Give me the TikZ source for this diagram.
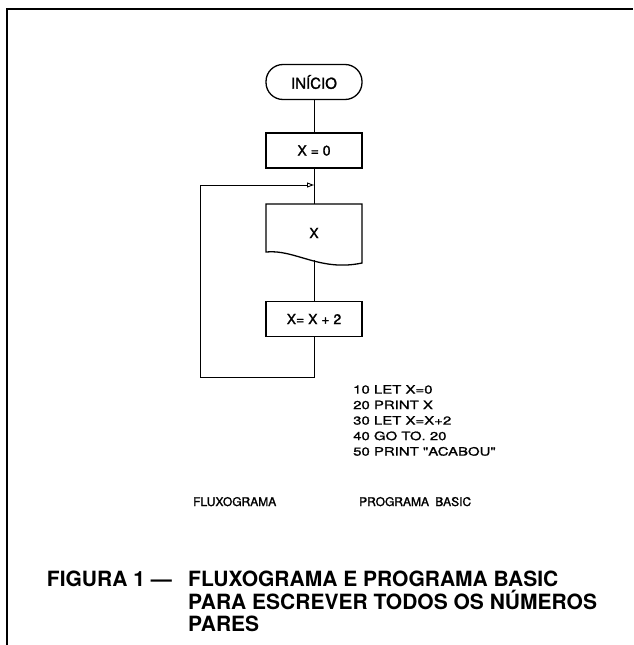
\documentclass[tikz,border=0pt]{standalone}
\usepackage{fontspec}
\setmainfont{TeX Gyre Heros}
\newfontfamily\medfont[FakeBold=1.5]{TeX Gyre Heros}
\newfontfamily\progfont[FakeStretch=1.3,FakeBold=1.2]{TeX Gyre Heros}
\usetikzlibrary{arrows.meta}
\begin{document}
\begin{tikzpicture}[x=1pt,y=-1pt,
  box/.style={draw, line width=1.3pt, minimum width=96pt, minimum height=35pt, inner sep=0pt,
    font=\medfont\fontsize{14}{16}\selectfont},
  flow/.style={line width=0.9pt},
  lbl/.style={inner sep=0pt, font=\medfont\fontsize{12}{14}\selectfont},
  capt/.style={inner sep=0pt, align=left, font=\bfseries\fontsize{21}{22.5}\selectfont}
]
\useasboundingbox (0,0) rectangle (633,645);
% frame
\draw[line width=2pt] (7,645) -- (7,9) -- (633,9);

% flowchart
\node[box, rounded corners=17pt, font=\medfont\fontsize{15}{17}\selectfont] (start) at (314,82) {INÍCIO};
\node[box] (init) at (314,150.5) {X = 0};
\node[minimum width=96pt, minimum height=58pt, inner sep=0pt, font=\medfont\fontsize{14}{16}\selectfont] (doc) at (314,233) {X};
\draw[line width=1.3pt] (266,252) -- (266,204) -- (362,204) -- (362,263)
  .. controls (320,272) and (295,249) .. cycle;
\coordinate (docb) at (314,260);
\node[box] (inc) at (314,319) {X= X + 2};

\coordinate (join) at (314,185);
\coordinate (bot) at (314,377);
\coordinate (lb) at (200,377);
\coordinate (lt) at (200,185);

\draw[flow] (start) -- (init);
\draw[flow] (init) -- (doc.north);
\draw[flow] (docb) -- (inc);
\draw[flow] (inc) -- (bot) -- (lb) -- (lt);
\draw[flow, -{Triangle[open, length=7pt, width=5pt]}] (lt) -- (join);

% program
\node[anchor=north west, align=left, inner sep=0pt,
  font=\progfont\fontsize{11.5}{15.5}\selectfont] (prog) at (353,385)
  {10 LET X=0\\20 PRINT X\\30 LET X=X+2\\40 GO TO. 20\\50 PRINT "ACABOU"};

% labels
\node[lbl, anchor=base west] (lflux) at (193,506) {FLUXOGRAMA};
\node[lbl, anchor=base west] (lprog) at (359,506) {PROGRAMA\hspace{3pt} BASIC};

% caption
\node[capt, anchor=north east] (fig) at (172,571) {FIGURA 1 —};
\node[capt, anchor=north west] (cap) at (188,571)
  {FLUXOGRAMA E PROGRAMA BASIC\\PARA ESCREVER TODOS OS NÚMEROS\\PARES};
\end{tikzpicture}
\end{document}
